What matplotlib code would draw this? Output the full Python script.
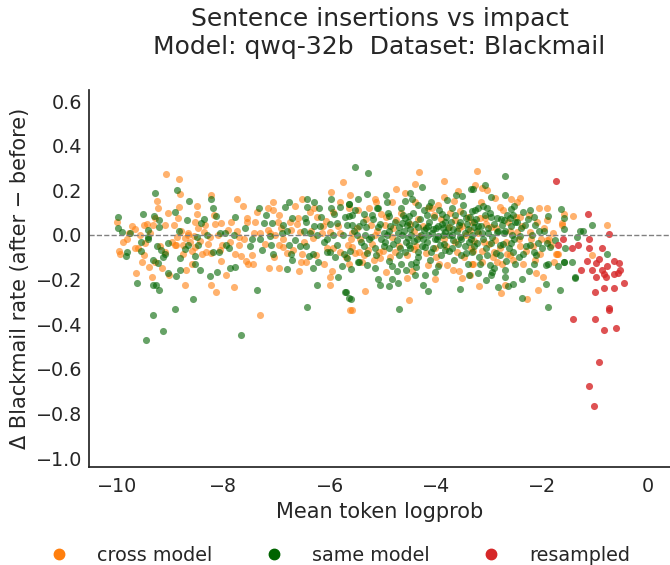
import matplotlib
matplotlib.use("Agg")
import matplotlib.pyplot as plt
from matplotlib.lines import Line2D
import seaborn as sns

# points: (mean token logprob, change in blackmail rate)
cross_pts = [
    (-9.09, 0.274), (-8.83, 0.25), (-8.81, 0.185), (-9.25, 0.152), (-9.23, 0.122), (-8.84, 0.125),
    (-8.23, 0.18), (-8.17, 0.09), (-10.01, 0.06), (-9.28, 0.074), (-9.33, 0.044), (-9.44, 0.049),
    (-9.67, 0.026), (-9.81, -0.016), (-9.58, -0.001), (-9.47, -0.034), (-9.66, -0.058), (-9.10, 0.044),
    (-8.93, 0.047), (-8.86, 0.074), (-8.88, -0.01), (-8.91, -0.046), (-8.77, -0.043), (-9.10, -0.075),
    (-9.28, -0.123), (-9.50, -0.09), (-9.54, -0.12), (-9.40, -0.143), (-9.97, -0.072), (-9.94, -0.084),
    (-9.64, -0.17), (-9.35, -0.188), (-9.03, -0.18), (-8.71, -0.156), (-8.72, -0.225), (-8.77, -0.083),
    (-8.63, -0.031), (-8.56, -0.005), (-8.67, 0.011), (-8.50, 0.096), (-8.54, 0.059), (-8.34, 0.047),
    (-8.53, -0.053), (-8.40, -0.087), (-8.59, -0.132), (-8.25, -0.008), (-8.33, -0.075), (-8.24, -0.08),
    (-8.06, -0.068), (-8.04, -0.117), (-8.24, -0.225), (-8.14, -0.255), (-8.89, -0.043), (-8.66, -0.001),
    (-8.72, -0.013), (-8.44, -0.025), (-8.37, 0.014), (-8.15, 0.05), (-8.04, 0.052), (-9.49, 0.044),
    (-9.77, 0.007),
    (-5.75, 0.238), (-7.75, 0.161), (-7.63, 0.131), (-7.37, 0.101), (-7.16, 0.122), (-7.07, 0.149),
    (-7.06, 0.111), (-6.53, 0.159), (-6.29, 0.119), (-6.37, 0.101), (-5.98, 0.191), (-5.81, 0.149),
    (-5.94, 0.101), (-7.56, 0.077), (-7.55, 0.059), (-7.92, 0.022), (-7.75, 0.017), (-8.03, -0.043),
    (-7.88, -0.031), (-7.70, -0.008), (-7.42, 0.011), (-7.31, 0.011), (-7.17, 0.022), (-6.98, 0.059),
    (-6.95, 0.089), (-6.75, 0.059), (-6.60, 0.077), (-6.24, 0.082), (-6.06, 0.062), (-7.13, 0.007),
    (-7.02, -0.001), (-6.87, -0.019), (-6.73, 0.022), (-6.55, 0.014), (-6.31, -0.013), (-6.15, 0.011),
    (-5.99, 0.014), (-5.80, 0.007), (-7.71, -0.043), (-7.78, -0.087), (-7.67, -0.093), (-7.57, -0.117),
    (-7.53, -0.129), (-7.46, -0.09), (-7.96, -0.18), (-7.81, -0.232), (-7.32, -0.357), (-6.96, -0.043),
    (-6.87, -0.053), (-6.96, -0.147), (-7.15, -0.15), (-6.69, -0.068), (-6.52, -0.083), (-6.54, -0.12),
    (-6.45, -0.123), (-6.11, -0.132), (-6.57, -0.162), (-5.94, -0.057), (-5.80, -0.075), (-5.64, -0.128),
    (-5.99, -0.188), (-6.00, -0.225), (-5.62, -0.337),
    (-4.31, 0.283), (-3.84, 0.241), (-4.39, 0.23), (-4.75, 0.208), (-4.58, 0.186), (-5.61, 0.179),
    (-5.64, 0.119), (-5.47, 0.111), (-5.25, 0.119), (-5.13, 0.149), (-4.83, 0.149), (-4.39, 0.146),
    (-4.15, 0.119), (-3.96, 0.134), (-3.65, 0.152), (-3.58, 0.197), (-3.27, 0.226), (-3.54, 0.107),
    (-5.03, 0.096), (-4.75, 0.067), (-4.34, 0.071), (-4.04, 0.089), (-3.63, 0.067), (-3.32, 0.059),
    (-5.22, 0.044), (-4.95, 0.044), (-4.42, 0.017), (-3.76, 0.037), (-3.50, 0.041), (-5.58, 0.007),
    (-5.42, -0.016), (-5.14, 0.002), (-4.83, -0.008), (-4.32, -0.004), (-3.85, -0.016), (-3.43, -0.001),
    (-5.66, -0.046), (-5.57, -0.053), (-5.45, -0.075), (-5.27, -0.068), (-5.07, -0.075), (-4.76, -0.075),
    (-4.42, -0.063), (-4.01, -0.06), (-3.60, -0.075), (-3.33, -0.06), (-5.39, -0.123), (-5.05, -0.105),
    (-4.94, -0.165), (-4.54, -0.192), (-4.14, -0.135), (-4.01, -0.198), (-3.94, -0.128), (-3.79, -0.135),
    (-3.68, -0.158), (-3.57, -0.162), (-3.50, -0.192), (-3.32, -0.132), (-5.33, -0.252), (-4.51, -0.292),
    (-5.57, -0.337),
    (-3.23, 0.288), (-3.13, 0.209), (-3.04, 0.203), (-2.88, 0.167), (-2.41, 0.167), (-2.47, 0.149),
    (-3.15, 0.146), (-2.79, 0.126), (-2.05, 0.119), (-1.90, 0.122), (-3.16, 0.074), (-3.07, 0.077),
    (-2.41, 0.081), (-1.59, 0.096), (-1.41, 0.086), (-1.90, 0.067), (-2.97, 0.037), (-2.65, 0.059),
    (-1.63, 0.047), (-3.35, 0.022), (-2.47, 0.014), (-2.22, 0.014), (-1.86, -0.016), (-3.29, -0.028),
    (-3.10, -0.031), (-2.88, -0.023), (-2.41, -0.049), (-2.17, -0.049), (-1.83, -0.046), (-1.69, -0.087),
    (-1.73, -0.087), (-2.03, -0.083), (-3.13, -0.072), (-2.91, -0.078), (-2.66, -0.083), (-2.61, -0.09),
    (-3.30, -0.132), (-2.85, -0.12), (-2.76, -0.128), (-2.35, -0.128), (-1.06, -0.09), (-1.98, -0.188),
    (-3.18, -0.228), (-2.69, -0.222), (-2.77, -0.258), (-2.07, -0.247), (-2.28, -0.288),
    (-1.63, 0.052), (-0.78, 0.047), (-1.91, -0.023), (-1.72, -0.083),
    # denser middle band
    (-5.60, -0.02), (-5.52, -0.08), (-5.48, 0.03), (-5.35, -0.09), (-5.31, 0.07), (-5.20, -0.04),
    (-5.16, -0.11), (-5.10, 0.02), (-5.00, -0.07), (-4.93, 0.08), (-4.87, -0.10), (-4.81, 0.03),
    (-4.70, -0.05), (-4.65, 0.10), (-4.55, -0.09), (-4.48, 0.05), (-4.38, -0.05), (-4.25, 0.04),
    (-4.18, -0.08), (-4.07, 0.12), (-3.99, -0.10), (-3.90, 0.07), (-3.81, -0.05), (-3.73, 0.10),
    (-3.64, -0.03), (-3.56, 0.03), (-3.47, -0.10), (-3.39, 0.08), (-3.30, -0.07), (-3.21, 0.01),
    (-3.14, -0.12), (-3.06, 0.05), (-3.00, -0.04), (-2.93, -0.10), (-2.86, 0.03), (-2.80, -0.06),
    (-2.73, 0.11), (-2.68, -0.03), (-2.60, 0.02), (-2.55, -0.11), (-2.49, 0.08), (-2.44, -0.02),
    (-2.37, 0.04), (-2.31, -0.07), (-2.25, 0.09), (-2.20, -0.02), (-2.13, -0.11), (-2.09, 0.06),
    (-2.02, -0.02), (-1.96, 0.03), (-1.80, 0.01), (-1.77, -0.12), (-6.05, -0.06), (-6.13, 0.04),
    (-6.26, -0.09), (-6.35, 0.02), (-6.48, -0.03), (-6.62, 0.05), (-6.80, -0.08), (-6.92, 0.03),
    (-7.05, -0.10), (-7.22, -0.04), (-7.40, 0.06), (-7.62, -0.02), (-7.85, 0.06), (-8.10, 0.00),
    (-8.30, -0.04), (-8.48, 0.03), (-8.60, -0.07), (-8.80, 0.02), (-8.97, -0.03), (-9.05, 0.10),
    (-9.20, -0.05), (-9.38, 0.01), (-9.60, -0.06), (-9.72, 0.04), (-9.90, -0.03), (-5.85, 0.04),
    (-5.70, -0.10), (-5.15, 0.16), (-4.45, -0.16), (-3.85, 0.17), (-3.35, -0.18), (-2.58, 0.16),
    (-2.12, -0.17), (-5.95, -0.16), (-6.65, 0.13), (-7.45, -0.13), (-8.50, 0.13), (-9.15, -0.15),
]

same_pts = [
    (-9.28, 0.19), (-8.88, 0.20), (-8.65, 0.15), (-8.23, 0.16), (-8.20, 0.122), (-8.14, 0.087),
    (-9.99, 0.08), (-9.99, 0.03), (-9.91, 0.014), (-9.52, 0.093), (-9.30, 0.084), (-9.21, 0.066),
    (-9.22, 0.035), (-9.42, 0.022), (-9.76, 0.011), (-9.42, -0.016), (-9.55, -0.031), (-8.91, 0.104),
    (-8.83, 0.017), (-9.05, -0.037), (-9.25, -0.049), (-9.18, -0.065), (-9.11, -0.087), (-9.14, -0.099),
    (-9.32, -0.114), (-9.24, -0.125), (-9.55, -0.072), (-9.81, -0.075), (-9.84, -0.093), (-9.62, -0.215),
    (-9.33, -0.222), (-9.27, -0.225), (-9.22, -0.247), (-9.04, -0.168), (-8.89, -0.185), (-8.82, -0.156),
    (-8.82, -0.102), (-8.72, -0.063), (-8.67, -0.043), (-8.69, 0.066), (-8.42, 0.052), (-8.36, 0.071),
    (-8.50, -0.008), (-8.54, -0.093), (-8.54, -0.128), (-8.44, -0.158), (-8.31, -0.001), (-8.20, -0.078),
    (-8.08, -0.078), (-8.25, -0.183), (-8.12, -0.165), (-8.58, -0.288), (-9.33, -0.36), (-8.92, -0.33),
    (-9.13, -0.43), (-9.45, -0.47), (-8.47, -0.043), (-8.06, 0.01), (-9.42, -0.008),
    (-7.33, 0.122), (-6.77, 0.149), (-6.85, 0.126), (-6.42, 0.162), (-6.42, 0.126), (-6.29, 0.149),
    (-5.98, 0.161), (-5.98, 0.119), (-5.80, 0.126), (-5.91, 0.092), (-5.64, 0.141), (-5.64, 0.086),
    (-7.78, 0.08), (-7.80, 0.002), (-7.97, 0.007), (-7.95, -0.046), (-7.90, -0.06), (-7.46, -0.019),
    (-7.31, -0.019), (-7.24, 0.052), (-7.09, 0.052), (-6.88, 0.047), (-6.71, 0.077), (-6.46, 0.074),
    (-6.44, 0.059), (-6.18, 0.041), (-6.16, 0.082), (-5.86, 0.052), (-5.71, 0.082), (-7.12, -0.004),
    (-6.80, 0.017), (-6.65, -0.023), (-6.49, 0.017), (-6.37, 0.011), (-6.23, 0.002), (-6.05, -0.016),
    (-5.94, -0.001), (-5.74, 0.002), (-7.27, -0.069), (-7.88, -0.15), (-7.78, -0.144), (-7.36, -0.247),
    (-7.67, -0.446), (-7.11, -0.046), (-7.06, -0.083), (-6.77, -0.043), (-6.73, -0.087), (-6.80, -0.153),
    (-6.44, -0.049), (-6.38, -0.093), (-6.31, -0.084), (-6.22, -0.12), (-6.31, -0.147), (-6.05, -0.078),
    (-5.99, -0.075), (-5.86, -0.046), (-5.73, -0.087), (-5.85, -0.188), (-6.23, -0.222), (-6.43, -0.322),
    (-5.70, -0.255), (-5.64, -0.282),
    (-5.53, 0.306), (-5.27, 0.276), (-4.27, 0.215), (-5.46, 0.161), (-5.30, 0.182), (-5.63, 0.137),
    (-5.08, 0.119), (-4.92, 0.146), (-4.65, 0.119), (-4.58, 0.152), (-4.45, 0.161), (-4.34, 0.134),
    (-4.09, 0.146), (-3.79, 0.156), (-3.51, 0.176), (-3.33, 0.206), (-3.48, 0.134), (-3.27, 0.111),
    (-5.58, 0.089), (-5.36, 0.092), (-5.20, 0.089), (-4.89, 0.086), (-4.58, 0.074), (-4.50, 0.086),
    (-4.17, 0.089), (-3.89, 0.092), (-3.82, 0.059), (-3.43, 0.077), (-5.67, 0.044), (-5.57, 0.047),
    (-5.44, 0.041), (-5.32, 0.037), (-5.08, 0.037), (-4.88, 0.017), (-4.70, 0.037), (-4.64, 0.052),
    (-4.54, 0.044), (-4.48, 0.026), (-4.34, 0.037), (-4.23, 0.022), (-4.15, 0.041), (-4.06, 0.026),
    (-3.95, 0.041), (-3.87, 0.032), (-3.82, 0.014), (-3.68, 0.026), (-3.57, 0.044), (-3.40, 0.026),
    (-3.29, 0.037), (-5.49, -0.001), (-5.33, 0.002), (-5.22, -0.008), (-5.03, -0.019), (-4.92, -0.001),
    (-4.73, -0.023), (-4.64, -0.001), (-4.53, -0.013), (-4.42, -0.028), (-4.25, -0.016), (-4.14, -0.001),
    (-4.02, -0.019), (-3.95, -0.004), (-3.76, -0.001), (-3.67, -0.023), (-3.54, -0.008), (-3.33, -0.016),
    (-5.36, -0.049), (-5.15, -0.057), (-4.98, -0.049), (-4.89, -0.06), (-4.67, -0.057), (-4.59, -0.075),
    (-4.51, -0.046), (-4.34, -0.075), (-4.21, -0.053), (-4.10, -0.075), (-3.92, -0.046), (-3.83, -0.068),
    (-3.70, -0.057), (-3.52, -0.09), (-3.45, -0.049), (-5.68, -0.105), (-5.59, -0.153), (-5.47, -0.123),
    (-5.29, -0.135), (-5.14, -0.15), (-4.89, -0.117), (-4.83, -0.138), (-4.73, -0.162), (-4.56, -0.158),
    (-4.46, -0.128), (-4.38, -0.143), (-4.39, -0.18), (-4.20, -0.177), (-4.02, -0.165), (-3.37, -0.18),
    (-5.09, -0.195), (-5.05, -0.222), (-4.88, -0.228), (-4.82, -0.195), (-4.71, -0.213), (-4.25, -0.222),
    (-5.71, -0.255), (-5.59, -0.285), (-4.70, -0.333),
    (-2.70, 0.262), (-3.08, 0.226), (-3.30, 0.206), (-2.69, 0.179), (-3.20, 0.122), (-3.32, 0.107),
    (-3.04, 0.119), (-2.59, 0.116), (-1.64, 0.116), (-2.22, 0.111), (-2.35, 0.101), (-2.96, 0.081),
    (-2.85, 0.074), (-2.72, 0.067), (-2.61, 0.074), (-2.54, 0.089), (-2.50, 0.059), (-2.16, 0.081),
    (-1.88, 0.084), (-1.59, 0.074), (-3.29, 0.059), (-3.21, 0.041), (-2.76, 0.044), (-2.32, 0.044),
    (-2.13, 0.044), (-1.58, 0.029), (-1.06, 0.044), (-3.13, 0.011), (-3.01, 0.007), (-2.84, 0.014),
    (-2.69, 0.017), (-2.57, 0.002), (-2.41, -0.004), (-1.97, 0.017), (-1.75, -0.023), (-1.28, 0.017),
    (-1.34, -0.008), (-3.23, -0.038), (-2.96, -0.034), (-2.79, -0.043), (-2.59, -0.034), (-2.22, -0.046),
    (-2.07, -0.038), (-1.90, -0.034), (-1.56, -0.06), (-3.32, -0.075), (-3.04, -0.09), (-2.80, -0.09),
    (-2.55, -0.075), (-2.35, -0.087), (-2.16, -0.078), (-3.16, -0.128), (-2.98, -0.135), (-2.67, -0.117),
    (-2.50, -0.132), (-2.16, -0.132), (-1.92, -0.135), (-1.88, -0.132), (-1.58, -0.12), (-1.43, -0.12),
    (-3.20, -0.172), (-2.94, -0.165), (-2.69, -0.158), (-2.96, -0.177), (-2.38, -0.195), (-2.69, -0.188),
    (-1.37, -0.192), (-2.82, -0.232), (-2.65, -0.228), (-1.92, -0.218), (-1.67, -0.247), (-2.38, -0.282),
    (-1.89, -0.322),
    (-1.23, 0.019), (-1.85, -0.053), (-0.78, -0.086), (-1.58, -0.119), (-1.69, -0.14), (-1.38, -0.19),
    # denser middle band
    (-5.55, 0.02), (-5.41, -0.03), (-5.38, 0.06), (-5.25, -0.02), (-5.18, 0.07), (-5.12, -0.09),
    (-5.05, 0.05), (-4.98, 0.01), (-4.95, -0.03), (-4.90, 0.10), (-4.86, 0.04), (-4.80, -0.04),
    (-4.77, 0.06), (-4.72, 0.01), (-4.69, -0.09), (-4.62, 0.09), (-4.60, 0.02), (-4.57, -0.03),
    (-4.52, 0.06), (-4.49, -0.06), (-4.46, 0.00), (-4.43, 0.10), (-4.40, 0.05), (-4.36, -0.02),
    (-4.33, -0.10), (-4.30, 0.07), (-4.28, 0.00), (-4.26, -0.05), (-4.22, 0.11), (-4.19, 0.03),
    (-4.16, -0.03), (-4.13, 0.06), (-4.11, -0.11), (-4.08, 0.01), (-4.05, -0.06), (-4.03, 0.08),
    (-4.00, 0.03), (-3.98, -0.02), (-3.94, 0.11), (-3.91, -0.09), (-3.89, 0.05), (-3.86, 0.00),
    (-3.84, -0.04), (-3.80, 0.08), (-3.78, 0.03), (-3.75, -0.07), (-3.72, 0.06), (-3.69, 0.00),
    (-3.66, -0.11), (-3.63, 0.09), (-3.61, 0.02), (-3.58, -0.04), (-3.55, 0.06), (-3.53, -0.02),
    (-3.49, 0.10), (-3.46, 0.01), (-3.44, -0.08), (-3.41, 0.05), (-3.38, -0.03), (-3.35, 0.08),
    (-3.31, 0.00), (-3.28, -0.05), (-3.25, 0.07), (-3.22, 0.02), (-3.18, -0.10), (-3.15, 0.04),
    (-3.11, -0.02), (-3.07, 0.09), (-3.05, -0.06), (-3.02, 0.03), (-2.98, 0.10), (-2.94, -0.01),
    (-2.91, 0.05), (-2.87, -0.08), (-2.83, 0.02), (-2.78, 0.07), (-2.74, -0.04), (-2.71, 0.01),
    (-2.66, 0.09), (-2.63, -0.06), (-2.58, 0.04), (-2.53, -0.02), (-2.47, 0.06), (-2.44, -0.10),
    (-2.39, 0.03), (-2.30, -0.05), (-2.26, 0.07), (-2.19, 0.00), (-2.11, -0.09), (-2.05, 0.02),
    (-2.00, -0.06), (-5.62, -0.07), (-5.52, 0.11), (-5.45, -0.12), (-5.30, -0.08), (-5.10, 0.12),
    (-4.66, -0.13), (-4.38, -0.12), (-4.12, 0.13), (-3.96, -0.14), (-3.70, 0.12), (-3.40, -0.13),
    (-3.12, 0.13), (-2.90, -0.15), (-6.10, -0.03), (-6.00, 0.05), (-5.90, -0.10), (-6.30, 0.04),
    (-6.55, -0.05), (-6.90, 0.01), (-7.20, 0.09), (-7.50, -0.05), (-7.60, 0.03), (-6.70, -0.11),
    (-6.20, 0.12), (-5.77, -0.14), (-4.48, 0.19), (-3.62, 0.18), (-2.97, 0.17), (-2.52, 0.13),
    (-4.93, 0.18), (-3.05, -0.20), (-4.15, -0.25), (-3.55, -0.24), (-2.55, -0.22), (-2.24, -0.16),
]

resampled_pts = [
    (-1.73, 0.243), (-1.14, 0.094), (-1.60, -0.017), (-1.69, -0.045), (-1.43, -0.056), (-1.33, -0.047),
    (-1.12, -0.017), (-1.11, -0.057), (-0.73, 0.004), (-0.87, -0.056), (-1.15, -0.115), (-0.98, -0.125),
    (-0.92, -0.107), (-1.27, -0.157), (-1.06, -0.157), (-0.88, -0.155), (-0.78, -0.137), (-0.64, -0.115),
    (-0.55, -0.125), (-0.53, -0.157), (-0.57, -0.172), (-0.64, -0.175), (-0.84, -0.175), (-0.79, -0.187),
    (-0.99, -0.187), (-0.45, -0.216), (-0.84, -0.237), (-0.65, -0.237), (-1.00, -0.256), (-0.74, -0.325),
    (-0.73, -0.337), (-1.42, -0.376), (-1.00, -0.376), (-0.60, -0.416), (-0.83, -0.426), (-0.93, -0.567),
    (-1.11, -0.676), (-1.02, -0.767),
]

labels = ['cross model', 'same model', 'resampled']
colors = ['#ff7f0e', 'darkgreen', '#d62728']

sns.set_theme(style='white', context='notebook', font_scale=1.25)

fig = plt.figure(figsize=(6.7, 5.65), dpi=100)
ax = fig.add_axes([0.133, 0.173, 0.867, 0.668])

cx, cy = zip(*cross_pts)
sx, sy = zip(*same_pts)
rx, ry = zip(*resampled_pts)
ax.scatter(cx, cy, s=26, color=colors[0], alpha=0.6, linewidths=0)
ax.scatter(sx, sy, s=26, color=colors[1], alpha=0.6, linewidths=0)
ax.scatter(rx, ry, s=26, color=colors[2], alpha=0.8, linewidths=0)

ax.axhline(0, color='gray', linestyle='--', linewidth=1)

ax.set_xlim(-10.53, 0.41)
ax.set_ylim(-1.04, 0.65)
ax.set_xticks([-10, -8, -6, -4, -2, 0])
ax.set_yticks([-1.0, -0.8, -0.6, -0.4, -0.2, 0.0, 0.2, 0.4, 0.6])
ax.tick_params(labelsize=13.75, length=0)
ax.tick_params(axis='y', pad=5)
ax.tick_params(axis='x', pad=7)
ax.set_xlabel('Mean token logprob', fontsize=15)
ax.set_ylabel('Δ Blackmail rate (after − before)', fontsize=15)
ax.set_title('Sentence insertions vs impact\nModel: qwq-32b  Dataset: Blackmail', fontsize=18, pad=26)
sns.despine(ax=ax)

handles = [Line2D([], [], marker='o', linestyle='', color=c, markersize=7.5) for c in colors]
fig.legend(handles, labels, loc='lower center', bbox_to_anchor=(0.5, -0.03), ncol=3, frameon=False,
           fontsize=13.75, columnspacing=2.2, handletextpad=1.0)

plt.savefig('out.png')
